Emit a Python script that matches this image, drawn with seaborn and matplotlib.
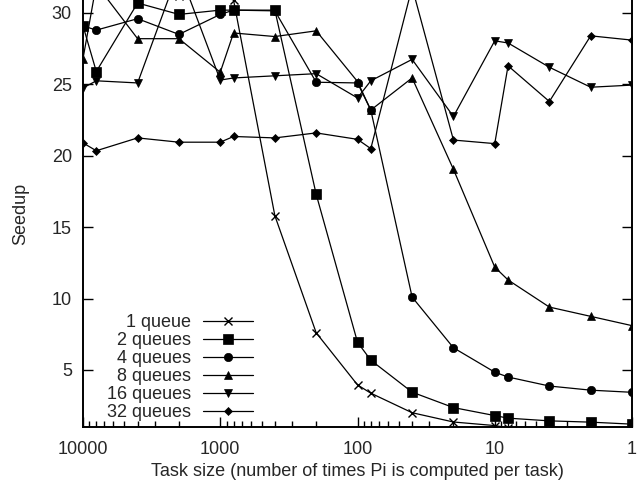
import matplotlib
matplotlib.use('Agg')
import matplotlib.pyplot as plt
import matplotlib.ticker as mticker
import seaborn as sns

# task size (number of times Pi is computed per task)
task_sizes = [10000, 8000, 4000, 2000, 1000, 800, 400, 200, 100, 80, 40, 20, 10, 8, 4, 2, 1]

# speedup per number of queues (values above ~31 are cut off at the top)
speedup_1 = [31.5, 31.8, 31.4, 31.2, 31.3, 30.9, 15.8, 7.6, 3.95, 3.37, 2.0, 1.35, 1.1, 0.95, 0.8, 0.7, 0.6]
speedup_2 = [29.1, 25.9, 30.7, 29.9, 30.2, 30.2, 30.2, 17.3, 6.94, 5.68, 3.44, 2.36, 1.8, 1.62, 1.43, 1.34, 1.2]
speedup_4 = [29.1, 28.8, 29.6, 28.5, 29.9, 30.2, 30.15, 25.15, 25.1, 23.2, 10.1, 6.55, 4.84, 4.5, 3.87, 3.58, 3.43]
speedup_8 = [26.8, 32.0, 28.2, 28.2, 25.85, 28.6, 28.35, 28.75, 25.2, 23.2, 25.45, 19.05, 12.2, 11.3, 9.4, 8.75, 8.1]
speedup_16 = [24.75, 25.25, 25.1, 33.0, 25.3, 25.45, 25.6, 25.75, 24.05, 25.25, 26.75, 22.75, 28.05, 27.9, 26.2, 24.8, 24.95]
speedup_32 = [20.9, 20.35, 21.25, 20.95, 20.95, 21.35, 21.25, 21.6, 21.15, 20.5, 31.8, 21.1, 20.85, 26.3, 23.8, 28.4, 28.1]

labels = ['1 queue', '2 queues', '4 queues', '8 queues', '16 queues', '32 queues']
all_speedups = [speedup_1, speedup_2, speedup_4, speedup_8, speedup_16, speedup_32]
markers = ['x', 's', 'o', '^', 'v', 'D']
marker_sizes = [6, 7, 6, 6, 6, 4.5]

sns.set_style('ticks')
plt.rcParams['font.family'] = ['Liberation Sans', 'DejaVu Sans']
plt.rcParams['font.size'] = 13

fig, ax = plt.subplots(figsize=(6.4, 4.83), dpi=100)
fig.subplots_adjust(left=83 / 640, right=632 / 640, bottom=56 / 483, top=1.0)

for label, values, marker, size in zip(labels, all_speedups, markers, marker_sizes):
    sns.lineplot(x=task_sizes, y=values, ax=ax, color='black', linewidth=0.9,
                 marker=marker, markersize=size, markeredgecolor='black',
                 markeredgewidth=1.0 if marker == 'x' else 0.5, label=label)

ax.set_xscale('log')
ax.set_xlim(10000, 1)
ax.set_ylim(1, 30.91)

ax.set_xticks([10000, 1000, 100, 10, 1])
ax.set_xticklabels(['10000', '1000', '100', '10', '1'])
ax.xaxis.set_minor_locator(mticker.LogLocator(base=10, subs=range(2, 10), numticks=20))
ax.xaxis.set_minor_formatter(mticker.NullFormatter())
ax.set_yticks([5, 10, 15, 20, 25, 30])

ax.tick_params(axis='both', which='major', direction='in', length=7, width=1, color='black')
ax.tick_params(axis='both', which='minor', direction='in', length=4, width=1, color='black')
ax.tick_params(axis='y', right=True, pad=8)
ax.tick_params(axis='x', top=False, pad=10)

ax.spines['top'].set_visible(False)
for side in ['left', 'right', 'bottom']:
    ax.spines[side].set_linewidth(1.4)
    ax.spines[side].set_color('black')

ax.set_ylabel('Seedup', labelpad=16)
ax.set_xlabel('Task size (number of times Pi is computed per task)', labelpad=4)

handles, names = ax.get_legend_handles_labels()
ax.legend(handles, names, markerfirst=False, frameon=False, loc='upper right',
          bbox_to_anchor=(0.31, 0.265), borderpad=0, borderaxespad=0,
          handlelength=2.8, handletextpad=0.65, labelspacing=0.06)

fig.savefig('out.png', dpi=100)
